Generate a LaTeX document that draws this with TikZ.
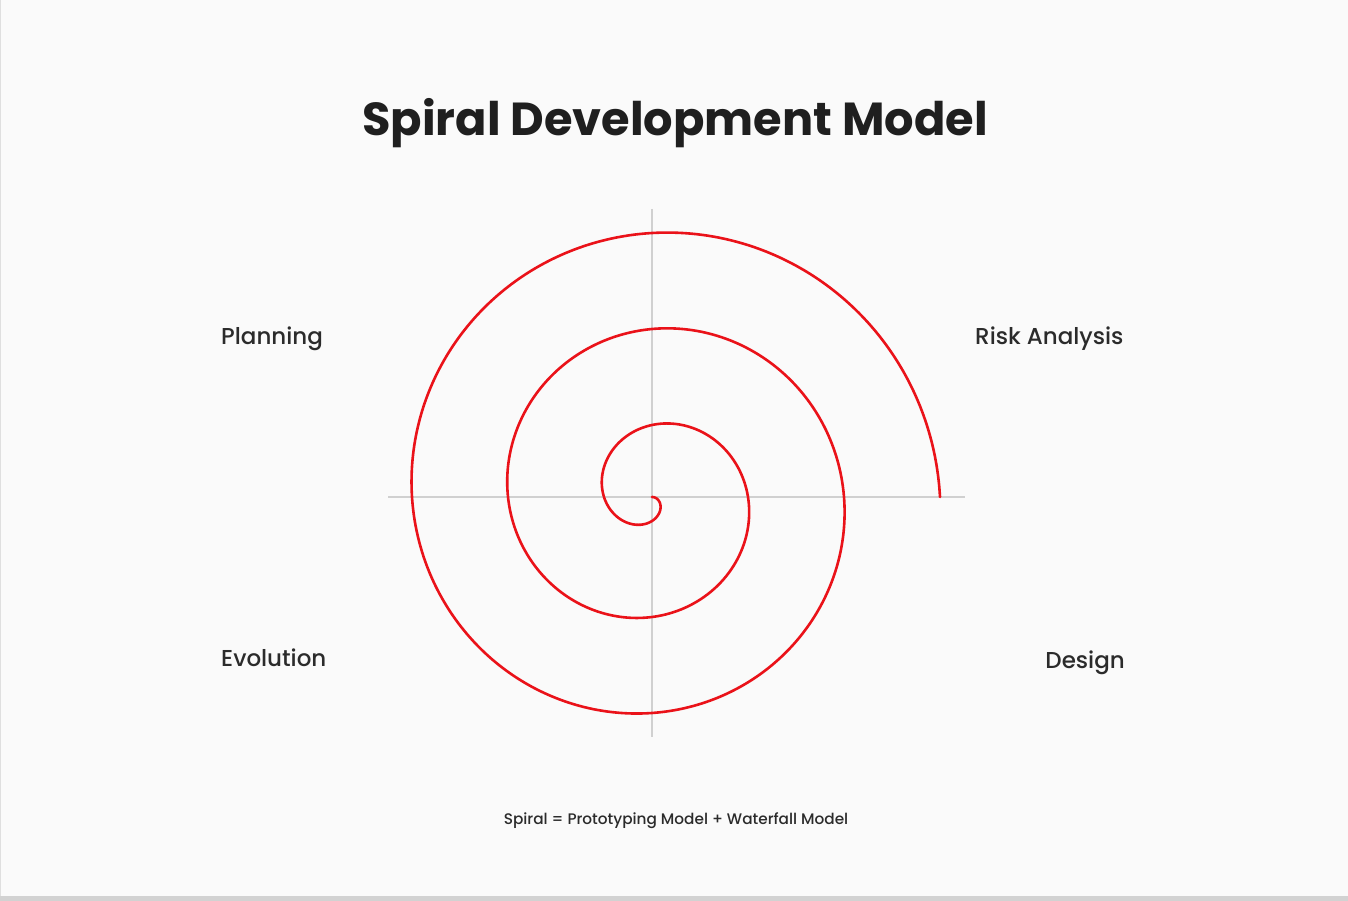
\documentclass[tikz,border=0pt]{standalone}
\usepackage{fontspec}
\setmainfont{Poppins}
\newfontfamily\titlefont{Poppins}[UprightFont={* Bold}]
\newfontfamily\labelfont{Poppins}[UprightFont={* Medium}]
\definecolor{bgcol}{HTML}{FAFAFA}
\definecolor{axiscol}{HTML}{D0D0D0}
\definecolor{spiralred}{HTML}{EA1219}
\definecolor{textcol}{HTML}{2B2B2B}
\begin{document}
\begin{tikzpicture}[x=1pt,y=-1pt,
  phase/.style={font=\labelfont\fontsize{23}{26}\selectfont,text=textcol,inner sep=0pt},
  axis/.style={draw=axiscol,line width=1.5pt},
  spiral/.style={draw=spiralred,line width=2.6pt,line cap=round,line join=round}]
\useasboundingbox (0,0) rectangle (1348,901);
\fill[bgcol] (0,0) rectangle (1348,901);
% screenshot edges
\fill[gray!35] (0,896) rectangle (1348,901);
\draw[gray!25,line width=1pt] (0.5,0) -- (0.5,896);
% title
\node[font=\titlefont\fontsize{46.3}{50}\selectfont,text=black!88] (title) at (675,123) {Spiral Development Model};
% axes
\coordinate (xl) at (388,497); \coordinate (xr) at (965,497);
\coordinate (yt) at (652,209); \coordinate (yb) at (652,737);
\draw[axis] (xl) -- (xr);
\draw[axis] (yt) -- (yb);
% spiral, three turns inwards
\draw[spiral] plot[domain=0:1080,samples=500,smooth]
  ({652+288*(1-\x/1080)*cos(\x)},{497-288*(1-\x/1080)*sin(\x)});
% phases
\node[phase,anchor=west] (plan) at (221,339) {Planning};
\node[phase,anchor=west] (risk) at (975,339) {Risk Analysis};
\node[phase,anchor=west] (evol) at (221,658) {Evolution};
\node[phase,anchor=east] (design) at (1125,663) {Design};
% formula
\node[font=\labelfont\fontsize{15.3}{17}\selectfont,text=textcol] (formula) at (676,821) {Spiral = Prototyping Model + Waterfall Model};
\end{tikzpicture}
\end{document}
